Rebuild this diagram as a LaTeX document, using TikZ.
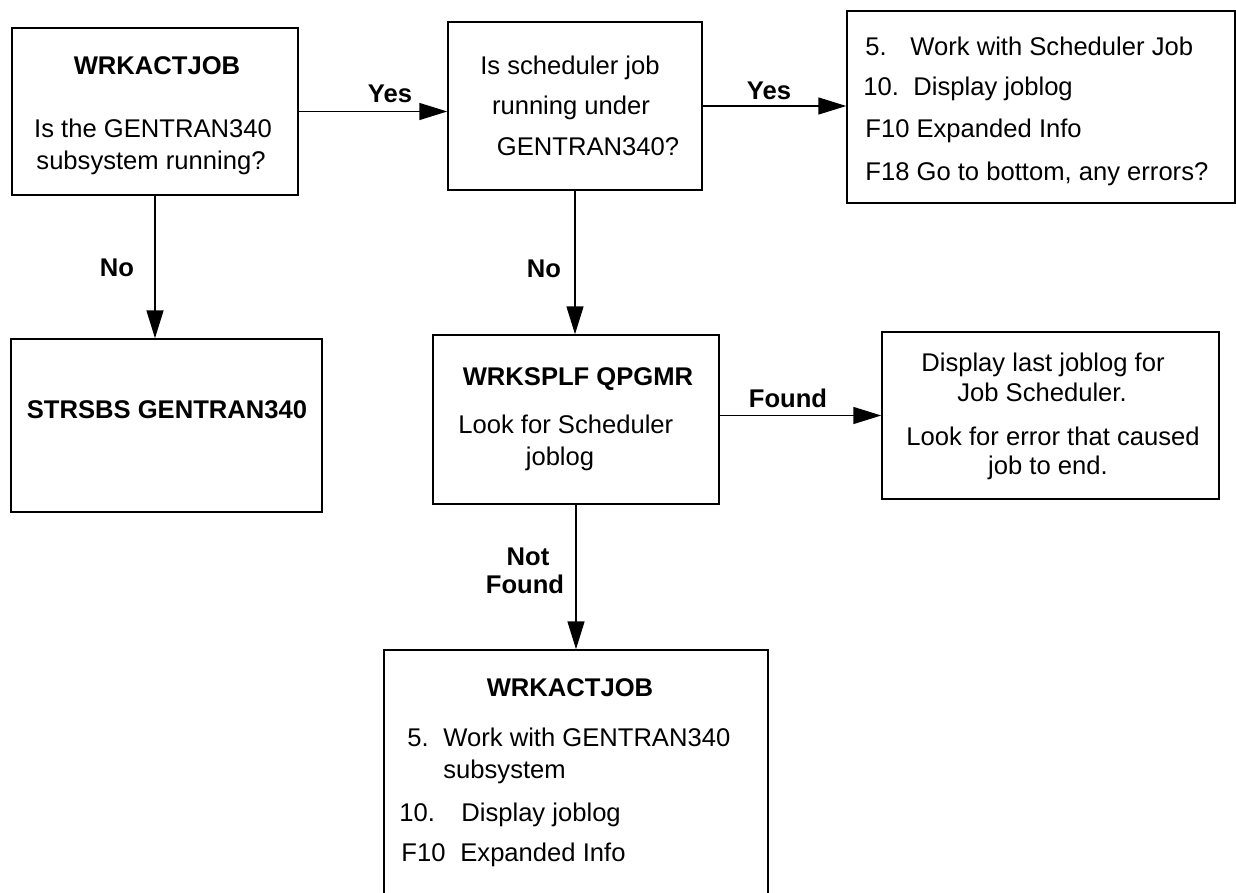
\documentclass[tikz,border=0pt]{standalone}
\usepackage{fontspec}
\setmainfont{Liberation Sans}
\usetikzlibrary{arrows.meta}
\tikzset{
	flowbox/.style={
			shape=rectangle,
			draw=black,
			line width=0.75pt,
			fill=white,
			inner sep=0pt
		},
	flowtext/.style={
			font=\fontsize{12.8}{15}\selectfont,
			inner sep=0pt,
			anchor=base
		},
	flowtextleft/.style={
			flowtext,
			anchor=base west
		},
	boldtext/.style={
			flowtext,
			font=\fontsize{12.8}{15}\selectfont\bfseries
		},
	flowarrow/.style={
			line width=0.75pt,
			-{Triangle[length=14pt,width=8.5pt]}
		}
}

\begin{document}
\begin{tikzpicture}[x=0.5pt, y=-0.5pt]
  \useasboundingbox (0,0) rectangle (1236,893);

  \node[flowbox, minimum width=143pt, minimum height=83.5pt] (actjob) at (155,111.5) {};
  \node[flowbox, minimum width=127pt, minimum height=84pt] (schedq) at (575,106) {};
  \node[flowbox, minimum width=194pt, minimum height=96pt] (schedjob) at (1041,107) {};
  \node[flowbox, minimum width=155.5pt, minimum height=86.5pt] (strsbs) at (166.5,425.5) {};
  \node[flowbox, minimum width=143pt, minimum height=84.5pt] (wrksplf) at (576,419.5) {};
  \node[flowbox, minimum width=168.5pt, minimum height=83.5pt] (lastlog) at (1050.5,415.5) {};
  \node[flowbox, minimum width=192pt, minimum height=145pt] (subsys) at (576,795) {};

  \node[boldtext] (actjobt) at (157,75) {WRKACTJOB};
  \node[flowtext] (actjoba) at (153,138) {Is the GENTRAN340};
  \node[flowtext] (actjobb) at (151,170) {subsystem running?};

  \node[flowtext] (schedqa) at (570,75) {Is scheduler job};
  \node[flowtext] (schedqb) at (571,115) {running under};
  \node[flowtext] (schedqc) at (588,156) {GENTRAN340?};

  \node[flowtextleft] (schedjoba) at (865,56) {\makebox[22.5pt][l]{5.}Work with Scheduler Job};
  \node[flowtextleft] (schedjobb) at (863,96) {\makebox[25pt][l]{10.}Display joblog};
  \node[flowtextleft] (schedjobc) at (865,138) {F10 Expanded Info};
  \node[flowtextleft] (schedjobd) at (865,181) {F18 Go to bottom, any errors?};

  \node[boldtext] (strsbst) at (167,418) {STRSBS GENTRAN340};

  \node[boldtext] (wrksplft) at (578,385) {WRKSPLF QPGMR};
  \node[flowtextleft] (wrksplfa) at (458,433) {Look for Scheduler};
  \node[flowtext] (wrksplfb) at (560,465) {joblog};

  \node[flowtext] (lastloga) at (1043,371) {Display last joblog for};
  \node[flowtext] (lastlogb) at (1042,401) {Job Scheduler.};
  \node[flowtext] (lastlogc) at (1053,445) {Look for error that caused};
  \node[flowtext] (lastlogd) at (1048,474) {job to end.};

  \node[boldtext] (subsyst) at (570,696) {WRKACTJOB};
  \node[flowtextleft] (subsysa) at (407,746) {\makebox[18pt][l]{5.}Work with GENTRAN340};
  \node[flowtextleft] (subsysb) at (443,778) {subsystem};
  \node[flowtextleft] (subsysc) at (399,821) {\makebox[31pt][l]{10.}Display joblog};
  \node[flowtextleft] (subsysd) at (401,861) {\makebox[29.5pt][l]{F10}Expanded Info};

  \draw[flowarrow] (actjob.east) -- (actjob.east -| schedq.west);
  \draw[flowarrow] (schedq.east) -- (schedq.east -| schedjob.west);
  \draw[flowarrow] (actjob.south) -- (actjob.south |- strsbs.north);
  \draw[flowarrow] (schedq.south) -- (schedq.south |- wrksplf.north);
  \draw[flowarrow] (lastlog.west -| wrksplf.east) -- (lastlog.west);
  \draw[flowarrow] (wrksplf.south) -- (subsys.north);

  \node[boldtext] (yes1) at (390,103) {Yes};
  \node[boldtext] (yes2) at (769,100) {Yes};
  \node[boldtext] (no1) at (117,277) {No};
  \node[boldtext] (no2) at (544,278) {No};
  \node[boldtext] (found1) at (788,407) {Found};
  \node[boldtext] (notfound1) at (528,565) {Not};
  \node[boldtext] (notfound2) at (525,593) {Found};

\end{tikzpicture}
\end{document}
